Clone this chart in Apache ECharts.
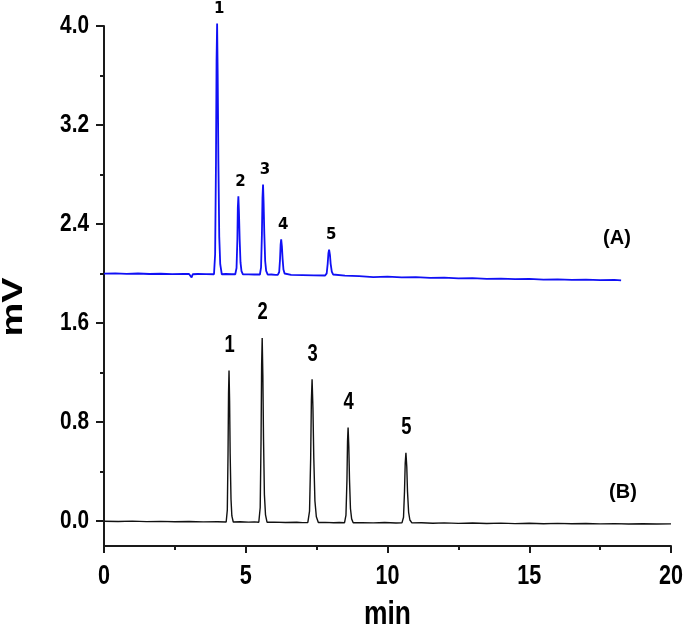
<!DOCTYPE html>
<html>
<head>
<meta charset="utf-8">
<script src="https://cdn.jsdelivr.net/npm/echarts@6/dist/echarts.min.js"></script>
<style>html,body{margin:0;padding:0;background:#fff;overflow:hidden}#c{width:685px;height:631px}</style>
</head>
<body>
<div id="c"></div>
<script>
// ---- data ----
const traceA = [
  [0,2.000],[0.4,2.002],[0.8,1.998],[1.2,2.001],[1.6,1.997],[2.0,1.999],[2.4,1.996],[2.8,1.998],[3.0,1.997],
  [3.05,2.010],[3.09,1.968],[3.13,1.995],[3.3,1.997],[3.6,1.996],
  [3.88,1.995],[3.92,2.157],[3.95,2.906],[3.97,3.716],[3.99,4.02],[4.01,3.615],[4.035,2.906],[4.065,2.299],[4.10,2.076],[4.155,1.995],
  [4.3,1.997],[4.5,1.995],
  [4.63,1.995],[4.675,2.045],[4.705,2.279],[4.72,2.53],[4.74,2.625],[4.76,2.499],[4.785,2.279],[4.815,2.09],[4.85,2.02],[4.90,1.994],
  [5.1,1.994],[5.3,1.993],
  [5.50,1.993],[5.54,2.051],[5.57,2.32],[5.59,2.611],[5.61,2.72],[5.63,2.575],[5.655,2.32],[5.685,2.102],[5.72,2.022],[5.775,1.992],
  [5.9,1.993],[6.05,1.990],
  [6.13,1.990],[6.18,2.013],[6.21,2.119],[6.23,2.234],[6.25,2.277],[6.275,2.22],[6.30,2.119],[6.33,2.033],[6.37,2.001],[6.425,1.990],
  [6.6,1.990],[7.0,1.988],[7.4,1.986],
  [7.80,1.985],[7.855,2.002],[7.89,2.079],[7.915,2.163],[7.94,2.194],[7.97,2.152],[7.995,2.079],[8.035,2.016],[8.08,1.993],[8.15,1.985],
  [8.5,1.984],[9.0,1.980],[9.5,1.972],[10.0,1.975],[10.5,1.970],[11.0,1.972],[11.5,1.966],[12.0,1.968],[12.5,1.962],[13.0,1.964],
  [13.5,1.958],[14.0,1.960],[14.5,1.955],[15.0,1.957],[15.5,1.952],[16.0,1.954],[16.5,1.949],[17.0,1.951],[17.5,1.947],[18.0,1.949],[18.24,1.946]
];
const traceB = [
  [0,0.000],[0.5,-0.002],[1.0,0.001],[1.5,-0.003],[2.0,-0.001],[2.5,-0.004],[3.0,-0.002],[3.5,-0.005],[4.0,-0.004],
  [4.31,-0.006],[4.35,0.092],[4.375,0.545],[4.393,1.034],[4.41,1.218],[4.43,0.973],[4.45,0.545],[4.48,0.178],[4.51,0.043],[4.56,-0.006],
  [4.8,-0.004],[5.1,-0.007],[5.3,-0.005],
  [5.46,-0.008],[5.51,0.111],[5.54,0.662],[5.56,1.257],[5.58,1.48],[5.603,1.182],[5.627,0.662],[5.658,0.215],[5.697,0.052],[5.75,-0.008],
  [6.0,-0.007],[6.4,-0.010],[6.8,-0.008],[7.0,-0.011],
  [7.19,-0.010],[7.25,0.082],[7.29,0.51],[7.315,0.973],[7.34,1.146],[7.37,0.915],[7.40,0.51],[7.44,0.163],[7.49,0.036],[7.56,-0.010],
  [7.8,-0.009],[8.1,-0.012],[8.3,-0.010],
  [8.485,-0.012],[8.535,0.05],[8.57,0.334],[8.59,0.642],[8.61,0.757],[8.635,0.603],[8.66,0.334],[8.693,0.103],[8.735,0.019],[8.79,-0.012],
  [9.1,-0.011],[9.5,-0.013],[9.9,-0.010],[10.3,-0.014],
  [10.51,-0.013],[10.565,0.032],[10.60,0.242],[10.625,0.468],[10.65,0.553],[10.68,0.44],[10.705,0.242],[10.745,0.072],[10.79,0.010],[10.86,-0.013],
  [11.2,-0.012],[11.6,-0.016],[12.0,-0.013],[12.5,-0.017],[13.0,-0.014],[13.5,-0.018],[14.0,-0.015],[14.5,-0.019],[15.0,-0.016],
  [15.5,-0.020],[16.0,-0.017],[16.5,-0.020],[17.0,-0.018],[17.5,-0.021],[18.0,-0.019],[18.5,-0.022],[19.0,-0.020],[19.5,-0.022],[20.0,-0.021]
];
const peakLabels = ['1','2','3','4','5'];
const peakTimesA = [3.99, 4.74, 5.61, 6.25, 7.94];
const peakValuesA = [4.02, 2.625, 2.72, 2.277, 2.194];
const peakTimesB = [4.41, 5.58, 7.34, 8.61, 10.65];
const peakValuesB = [1.218, 1.48, 1.146, 0.757, 0.553];
const xTicks = [0, 5, 10, 15, 20];
const yTicks = [0, 0.8, 1.6, 2.4, 3.2, 4.0];
const yMinorTicks = [0.4, 1.2, 2.0, 2.8, 3.6];
const xMin = 0, xMax = 20, xStep = 5;
const yMin = -0.2, yMax = 4.0;
const xTitle = 'min', yTitle = 'mV';
const traceNames = ['(A)', '(B)'];

// ---- chart ----
const ARIAL = "'Liberation Sans', Arial, sans-serif";
const AXC = '#1a1a1a';
const SQ = 0.8; // horizontal squeeze of the reference lettering
const chart = echarts.init(document.getElementById('c'), null, {renderer: 'canvas'});

const peakSeries = (times, vals, font, lift, dx, squeeze) => ({
  type: 'custom', silent: true, clip: false, z: 5,
  data: times.map((t, i) => [t, vals[i]]),
  renderItem: (params, api) => {
    const p = api.coord([api.value(0), api.value(1)]);
    return {type: 'text', x: p[0] + dx, y: p[1] - lift, scaleX: squeeze,
      style: {text: peakLabels[params.dataIndex], font: font, fill: '#000', align: 'center', verticalAlign: 'middle'}};
  }
});

chart.setOption({
  animation: false,
  grid: {left: 104, right: 14, top: 26, bottom: 85, containLabel: false},
  xAxis: {
    type: 'value', min: xMin, max: xMax, interval: xStep,
    axisLine: {show: true, onZero: false, lineStyle: {color: AXC, width: 2}},
    axisTick: {show: true, inside: false, length: 7, lineStyle: {color: AXC, width: 2}},
    minorTick: {show: true, splitNumber: 2, length: 4, lineStyle: {color: AXC, width: 2}},
    axisLabel: {show: false},
    splitLine: {show: false}
  },
  yAxis: [{
    type: 'value', min: yMin, max: yMax, position: 'left',
    axisLine: {show: true, lineStyle: {color: AXC, width: 2}},
    axisTick: {show: true, inside: false, length: 8, customValues: yTicks, lineStyle: {color: AXC, width: 2}},
    axisLabel: {show: false},
    splitLine: {show: false}
  }, {
    type: 'value', min: yMin, max: yMax, position: 'left', offset: 0,
    axisLine: {show: false},
    axisTick: {show: true, inside: false, length: 4, customValues: yMinorTicks, lineStyle: {color: AXC, width: 2}},
    axisLabel: {show: false},
    splitLine: {show: false}
  }],
  series: [
    {type: 'line', data: traceA, showSymbol: false, clip: false,
      lineStyle: {color: '#1010f5', width: 1.8}},
    {type: 'line', data: traceB, showSymbol: false, clip: false,
      lineStyle: {color: '#111', width: 1.4}},
    peakSeries(peakTimesA, peakValuesA, "bold 15px 'DejaVu Sans', sans-serif", 14, 2, 1),
    peakSeries(peakTimesB, peakValuesB, 'bold 23px ' + ARIAL, 25, 0.5, SQ)
  ]
});

// tick labels and titles, placed through the axes' own scales
const px = (x, y) => chart.convertToPixel({gridIndex: 0}, [x, y]);
const g = [];
yTicks.forEach(v => {
  const p = px(xMin, v);
  g.push({type: 'text', x: p[0] - 15, y: p[1], scaleX: SQ,
    style: {text: v.toFixed(1), font: 'bold 26px ' + ARIAL, fill: '#000', align: 'right', verticalAlign: 'middle'}});
});
xTicks.forEach(v => {
  const p = px(v, yMin);
  g.push({type: 'text', x: p[0], y: p[1] + 31, scaleX: SQ,
    style: {text: String(v), font: 'bold 27px ' + ARIAL, fill: '#000', align: 'center', verticalAlign: 'middle'}});
});
const xc = px((xMin + xMax) / 2, yMin);
g.push({type: 'text', x: xc[0], y: xc[1] + 69, scaleX: SQ,
  style: {text: xTitle, font: 'bold 33px ' + ARIAL, fill: '#000', align: 'center', verticalAlign: 'middle'}});
g.push({type: 'text', x: 14, y: 307, rotation: Math.PI / 2, scaleY: SQ,
  style: {text: yTitle, font: 'bold 38px ' + ARIAL, fill: '#000', align: 'center', verticalAlign: 'middle'}});
g.push({type: 'text', x: 617, y: 238,
  style: {text: traceNames[0], font: 'bold 20px ' + ARIAL, fill: '#000', align: 'center', verticalAlign: 'middle'}});
g.push({type: 'text', x: 623, y: 492,
  style: {text: traceNames[1], font: 'bold 20px ' + ARIAL, fill: '#000', align: 'center', verticalAlign: 'middle'}});
chart.setOption({graphic: g});
</script>
</body>
</html>
